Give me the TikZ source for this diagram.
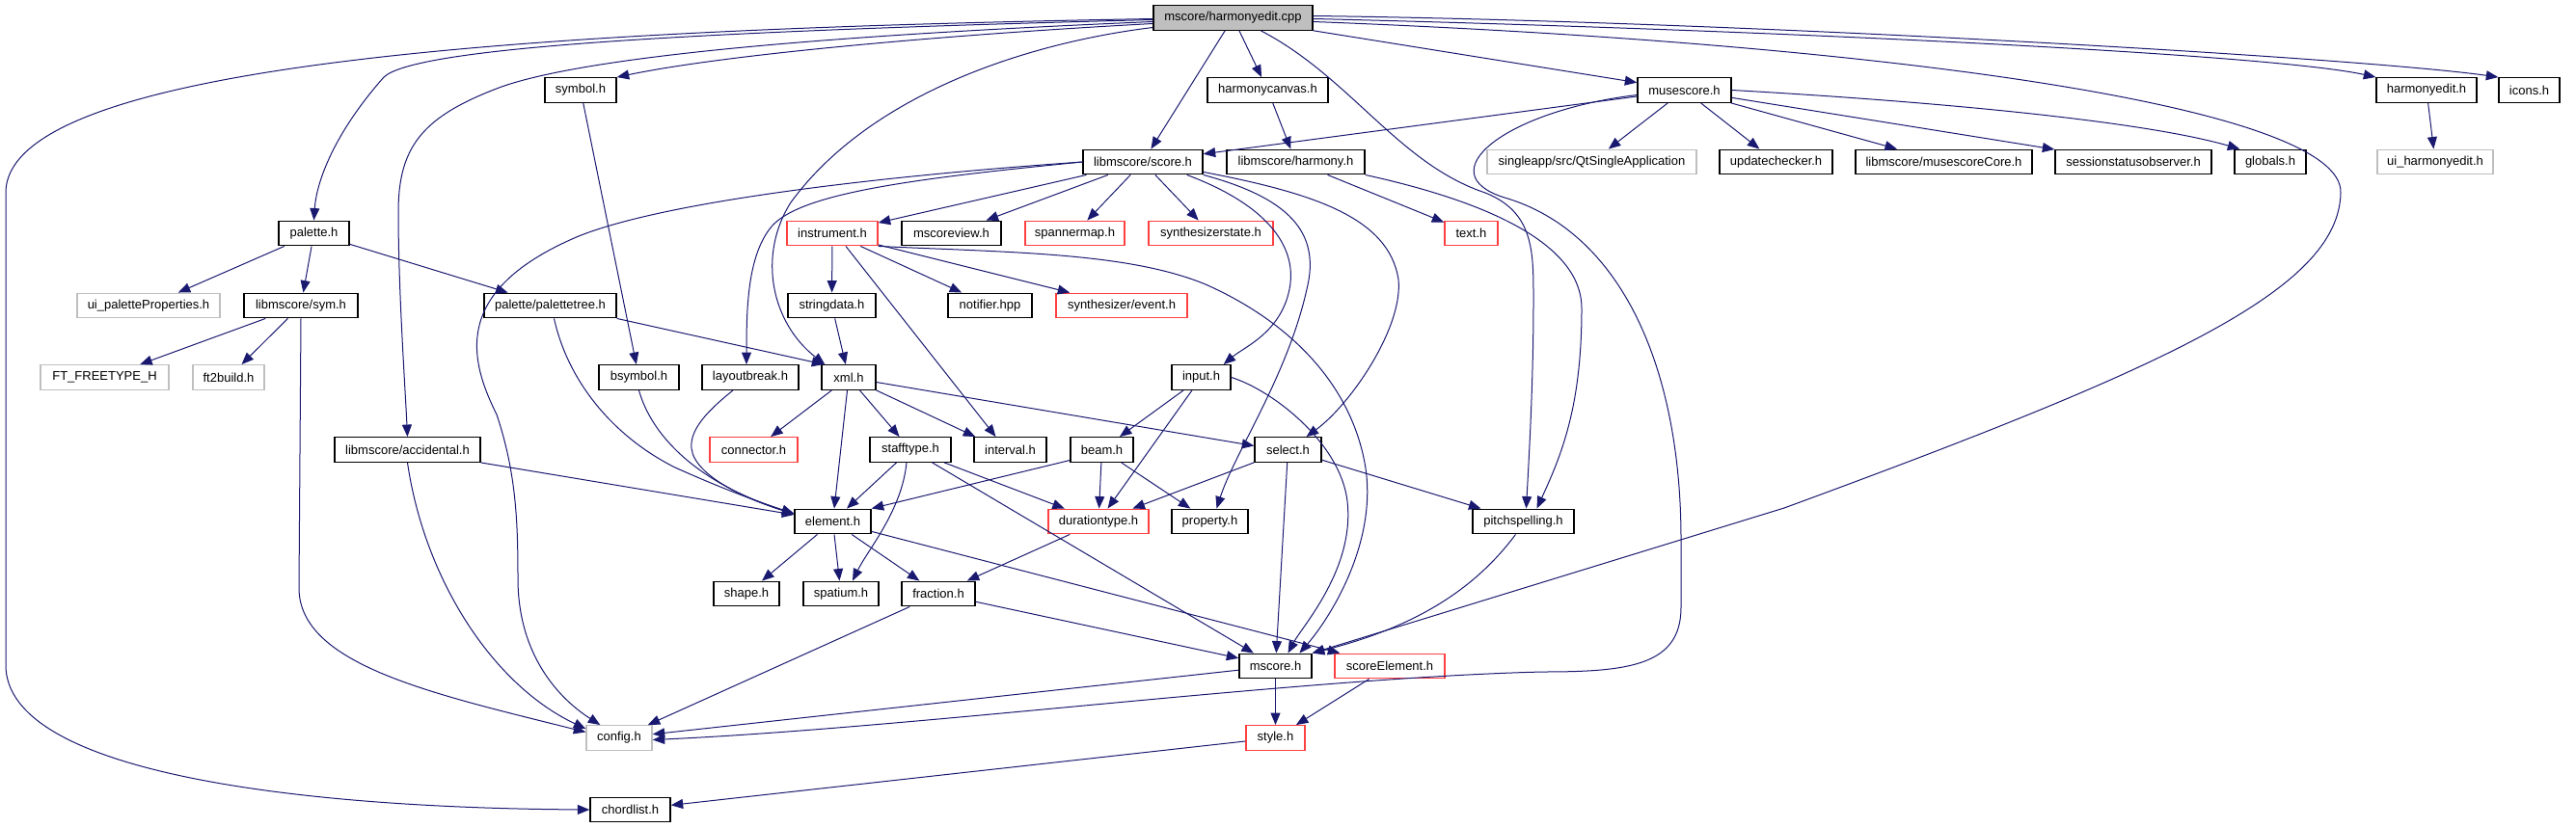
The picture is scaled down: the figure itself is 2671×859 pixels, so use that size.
\documentclass[tikz,border=0pt]{standalone}
\usepackage{fontspec}
\setmainfont{Liberation Sans}
\usetikzlibrary{arrows.meta}
\definecolor{edgeblue}{RGB}{25,25,112}
\definecolor{nodered}{RGB}{255,64,64}
\definecolor{nodegray}{RGB}{191,191,191}
\begin{document}
\begin{tikzpicture}[x=1pt,y=-1pt,
  box/.style={draw=black, line width=1.4pt, fill=white, rectangle, inner sep=0pt, minimum height=25.5pt, font=\fontsize{13}{15}\selectfont, text=black},
  redbox/.style={box, draw=nodered},
  graybox/.style={box, draw=nodegray},
  rootbox/.style={box, fill=nodegray},
  edge/.style={draw=edgeblue, line width=1pt, -{Triangle[length=12.5pt,width=10pt]}}]
\useasboundingbox (0,0) rectangle (2671,859);
% row 1
\node[rootbox, minimum width=165pt] (ncpp) at (1278.5,18.5) {mscore/harmonyedit.cpp};
% row 2
\node[box, minimum width=74pt] (nsymbol) at (602,93.5) {symbol.h};
\node[box, minimum width=125pt] (nhcanvas) at (1314.5,93.5) {harmonycanvas.h};
\node[box, minimum width=97pt] (nmusescore) at (1746.5,93.5) {musescore.h};
\node[box, minimum width=104pt] (nhedith) at (2516,93.5) {harmonyedit.h};
\node[box, minimum width=63pt] (nicons) at (2622.5,93.5) {icons.h};
% row 3
\node[box, minimum width=124pt] (nscore) at (1185,168) {libmscore/score.h};
\node[box, minimum width=143pt] (nharmony) at (1343.5,168) {libmscore/harmony.h};
\node[graybox, minimum width=217pt] (nqtsingle) at (1650.5,168) {singleapp/src/QtSingleApplication};
\node[box, minimum width=117pt] (nupdchk) at (1841.5,168) {updatechecker.h};
\node[box, minimum width=183pt] (nmscorecore) at (2015.5,168) {libmscore/musescoreCore.h};
\node[box, minimum width=162pt] (nsessobs) at (2212,168) {sessionstatusobserver.h};
\node[box, minimum width=74pt] (nglobals) at (2354,168) {globals.h};
\node[graybox, minimum width=120pt] (nuihedit) at (2525,168) {ui\_harmonyedit.h};
% row 4
\node[box, minimum width=73pt] (npalette) at (325.5,242) {palette.h};
\node[redbox, minimum width=94pt] (ninstrument) at (863,242) {instrument.h};
\node[box, minimum width=103pt] (nmscoreview) at (986.5,242) {mscoreview.h};
\node[redbox, minimum width=103pt] (nspannermap) at (1114.5,242) {spannermap.h};
\node[redbox, minimum width=129pt] (nsynthstate) at (1255.5,242) {synthesizerstate.h};
\node[redbox, minimum width=55pt] (ntext) at (1525.5,242) {text.h};
% row 5
\node[graybox, minimum width=148pt] (nuipal) at (154,317) {ui\_paletteProperties.h};
\node[box, minimum width=118pt] (nsym) at (312,317) {libmscore/sym.h};
\node[box, minimum width=137pt] (npaltree) at (570.5,317) {palette/palettetree.h};
\node[box, minimum width=91pt] (nstringdata) at (862.5,317) {stringdata.h};
\node[box, minimum width=87pt] (nnotifier) at (1026.5,317) {notifier.hpp};
\node[redbox, minimum width=136pt] (nevent) at (1163,317) {synthesizer/event.h};
% row 6
\node[graybox, minimum width=133pt] (nftfree) at (108.5,391.5) {FT\_FREETYPE\_H};
\node[graybox, minimum width=74pt] (nftbuild) at (237,391.5) {ft2build.h};
\node[box, minimum width=83pt] (nbsymbol) at (662.5,391.5) {bsymbol.h};
\node[box, minimum width=100pt] (nlayoutbreak) at (778,391.5) {layoutbreak.h};
\node[box, minimum width=56pt] (nxml) at (880,391.5) {xml.h};
\node[box, minimum width=61pt] (ninput) at (1245.5,391.5) {input.h};
% row 7
\node[box, minimum width=151pt] (naccidental) at (422.5,466.5) {libmscore/accidental.h};
\node[redbox, minimum width=91pt] (nconnector) at (781.5,466.5) {connector.h};
\node[box, minimum width=84pt] (nstafftype) at (944,466.5) {stafftype.h};
\node[box, minimum width=75pt] (ninterval) at (1047.5,466.5) {interval.h};
\node[box, minimum width=65pt] (nbeam) at (1142.5,466.5) {beam.h};
\node[box, minimum width=69pt] (nselect) at (1335.5,466.5) {select.h};
% row 8
\node[box, minimum width=79pt] (nelement) at (863.5,541) {element.h};
\node[redbox, minimum width=104pt] (ndurationtype) at (1139,541) {durationtype.h};
\node[box, minimum width=79pt] (nproperty) at (1254.5,541) {property.h};
\node[box, minimum width=105pt] (npitchspelling) at (1579.5,541) {pitchspelling.h};
% row 9
\node[box, minimum width=68pt] (nshape) at (774,616) {shape.h};
\node[box, minimum width=78pt] (nspatium) at (872,616) {spatium.h};
\node[box, minimum width=76pt] (nfraction) at (973,616) {fraction.h};
% row 10
\node[box, minimum width=75pt] (nmscoreh) at (1322.5,691) {mscore.h};
\node[redbox, minimum width=114pt] (nscoreelement) at (1441,691) {scoreElement.h};
% row 11
\node[graybox, minimum width=68pt] (nconfig) at (642,765.5) {config.h};
\node[redbox, minimum width=61pt] (nstyle) at (1322.5,765.5) {style.h};
% row 12
\node[box, minimum width=83pt] (nchordlist) at (653.5,840) {chordlist.h};

% ---- edges from harmonyedit.cpp
\draw[edge] ([yshift=-1pt]ncpp.west) .. controls (600,30) and (6,60) .. (6,200) -- (6,690) .. controls (6,800) and (300,838) .. (nchordlist.west);
\draw[edge] ([yshift=-2pt]ncpp.west) .. controls (700,33) and (430,50) .. (398,80) .. controls (345,140) and (328,190) .. (npalette.north);
\draw[edge] ([yshift=-4pt]ncpp.west) .. controls (900,35) and (620,55) .. (520,90) .. controls (440,120) and (413,150) .. (413,220) .. controls (413,300) and (420,400) .. (naccidental.north);
\draw[edge] ([yshift=-6pt]ncpp.west) .. controls (1000,35) and (760,55) .. (nsymbol.north east);
\draw[edge] ([yshift=-10pt]ncpp.west) .. controls (1060,45) and (900,100) .. (820,210) .. controls (785,265) and (800,335) .. ([xshift=4pt]nxml.north west);
\draw[edge] (ncpp) -- (nscore);
\draw[edge] (ncpp) -- (nhcanvas);
\draw[edge] (ncpp) -- (nmusescore);
\draw[edge] ([xshift=29pt]ncpp.south) .. controls (1400,80) and (1450,170) .. (1540,200) .. controls (1590,220) and (1590,260) .. (1590,310) .. controls (1590,400) and (1585,480) .. ([xshift=3pt]npitchspelling.north);
\draw[edge] ([yshift=-1pt]ncpp.east) .. controls (1800,30) and (2350,55) .. (nhedith.north west);
\draw[edge] ([yshift=2pt]ncpp.east) .. controls (1800,22) and (2450,60) .. (nicons.north west);
\draw[edge] ([yshift=-4pt]ncpp.east) .. controls (1950,45) and (2430,110) .. (2427,200) .. controls (2425,300) and (2250,380) .. (1850,527) -- (nmscoreh.north east);

% ---- harmonycanvas / harmony
\draw[edge] (nhcanvas) -- (nharmony);
\draw[edge] (nharmony) -- (ntext);
\draw[edge] (nharmony.south east) .. controls (1500,200) and (1640,240) .. (1640,320) .. controls (1640,420) and (1620,470) .. ([xshift=14pt]npitchspelling.north);

% ---- musescore.h
\draw[edge] (nmusescore) -- (nscore);
\draw[edge] (nmusescore) -- (nqtsingle);
\draw[edge] (nmusescore) -- (nupdchk);
\draw[edge] (nmusescore) -- (nmscorecore);
\draw[edge] (nmusescore) -- (nsessobs);
\draw[edge] (nmusescore.east) .. controls (2000,105) and (2220,125) .. ([xshift=6pt]nglobals.north west);
\draw[edge] ([yshift=-5pt]nmusescore.west) .. controls (1560,115) and (1480,180) .. (1560,205) .. controls (1680,240) and (1743,380) .. (1743,560) -- (1743,630) .. controls (1743,690) and (1690,697) .. (1600,697) .. controls (1350,703) and (950,755) .. ([yshift=-2pt]nconfig.east);

% ---- harmonyedit.h
\draw[edge] (nhedith) -- (nuihedit);

% ---- score.h
\draw[edge] (nscore) -- (ninstrument);
\draw[edge] (nscore) -- (nmscoreview);
\draw[edge] (nscore) -- (nspannermap);
\draw[edge] (nscore) -- (nsynthstate);
\draw[edge] ([xshift=-17pt]nscore.south east) .. controls (1320,215) and (1345,260) .. (1337,300) .. controls (1328,345) and (1290,360) .. ([xshift=-8pt]ninput.north east);
\draw[edge] (nscore.south east) .. controls (1335,205) and (1370,240) .. (1355,300) .. controls (1335,390) and (1280,470) .. ([xshift=7pt]nproperty.north);
\draw[edge] ([yshift=3pt]nscore.south east) .. controls (1360,200) and (1440,225) .. (1450,290) .. controls (1455,340) and (1400,420) .. ([xshift=19pt]nselect.north);
\draw[edge] (nscore.west) .. controls (950,185) and (830,200) .. (800,235) .. controls (775,265) and (774,320) .. ([xshift=-4pt]nlayoutbreak.north);
\draw[edge] (nscore.west) .. controls (950,180) and (700,205) .. (600,245) .. controls (470,300) and (485,370) .. (515,430) .. controls (535,490) and (537,540) .. (537,600) .. controls (537,680) and (580,725) .. ([xshift=15pt]nconfig.north west);

% ---- palette
\draw[edge] (npalette) -- (nuipal);
\draw[edge] (npalette) -- (nsym);
\draw[edge] (npalette) -- (npaltree);
\draw[edge] (nsym) -- (nftfree);
\draw[edge] (nsym) -- (nftbuild);
\draw[edge] (nsym.south) -- (310,610) .. controls (310,690) and (450,720) .. ([yshift=6pt]nconfig.west);
\draw[edge] (npaltree.south east) -- ([xshift=3pt]nxml.north west);
\draw[edge] ([xshift=4pt]npaltree.south) .. controls (590,400) and (640,455) .. (700,485) .. controls (760,512) and (800,525) .. ([yshift=8pt]nelement.west);

% ---- symbol / bsymbol / layoutbreak / accidental
\draw[edge] (nsymbol) -- (nbsymbol);
\draw[edge] (nbsymbol.south) .. controls (675,450) and (720,500) .. ([yshift=8pt]nelement.west);
\draw[edge] ([xshift=-18pt]nlayoutbreak.south) .. controls (735,425) and (715,445) .. (717,465) .. controls (720,495) and (780,520) .. ([yshift=8pt]nelement.west);
\draw[edge] (naccidental.south east) -- ([yshift=7pt]nelement.west);
\draw[edge] (naccidental.south) .. controls (440,600) and (510,710) .. ([yshift=-4pt]nconfig.north west);

% ---- instrument
\draw[edge] (ninstrument) -- (nstringdata);
\draw[edge] (ninstrument) -- (nnotifier);
\draw[edge] (ninstrument) -- (nevent);
\draw[edge] ([xshift=14pt]ninstrument.south) -- ([xshift=-15pt]ninterval.north);
\draw[edge] (ninstrument.south east) .. controls (1050,262) and (1170,262) .. (1250,295) .. controls (1340,335) and (1400,400) .. (1415,480) .. controls (1430,560) and (1380,640) .. ([xshift=25pt]nmscoreh.north);
\draw[edge] (nstringdata) -- (nxml);

% ---- xml
\draw[edge] (nxml) -- (nconnector);
\draw[edge] (nxml) -- (nelement);
\draw[edge] (nxml) -- (nstafftype);
\draw[edge] (nxml.south east) -- ([xshift=2pt]ninterval.north west);
\draw[edge] ([yshift=-5pt]nxml.east) -- ([yshift=4pt]nselect.west);

% ---- input
\draw[edge] (ninput) -- (nbeam);
\draw[edge] (ninput) -- (ndurationtype);
\draw[edge] (ninput.east) .. controls (1320,405) and (1390,460) .. (1397,520) .. controls (1405,590) and (1350,650) .. ([xshift=13pt]nmscoreh.north);

% ---- beam, select, stafftype
\draw[edge] ([yshift=-11pt]nbeam.west) -- (nelement.north east);
\draw[edge] (nbeam) -- (ndurationtype);
\draw[edge] (nbeam) -- (nproperty);
\draw[edge] (nselect) -- (ndurationtype);
\draw[edge] (nselect) -- (nmscoreh);
\draw[edge] (nselect) -- (npitchspelling);
\draw[edge] (nstafftype) -- (nelement);
\draw[edge] ([xshift=-4pt]nstafftype.south) .. controls (935,530) and (900,570) .. ([xshift=12pt]nspatium.north);
\draw[edge] (nstafftype) -- (ndurationtype);
\draw[edge] (nstafftype) -- (nmscoreh);

% ---- element and below
\draw[edge] (nelement) -- (nshape);
\draw[edge] (nelement) -- (nspatium);
\draw[edge] (nelement) -- (nfraction);
\draw[edge] (nelement) -- (nscoreelement);
\draw[edge] (ndurationtype) -- (nfraction);
\draw[edge] (nfraction) -- (nconfig);
\draw[edge] (nfraction) -- (nmscoreh);
\draw[edge] ([xshift=-8pt]npitchspelling.south) .. controls (1530,610) and (1470,650) .. (nmscoreh.north east);
\draw[edge] (nmscoreh) -- (nconfig);
\draw[edge] (nmscoreh) -- (nstyle);
\draw[edge] (nscoreelement) -- (nstyle);
\draw[edge] (nstyle) -- (nchordlist);
\end{tikzpicture}
\end{document}
